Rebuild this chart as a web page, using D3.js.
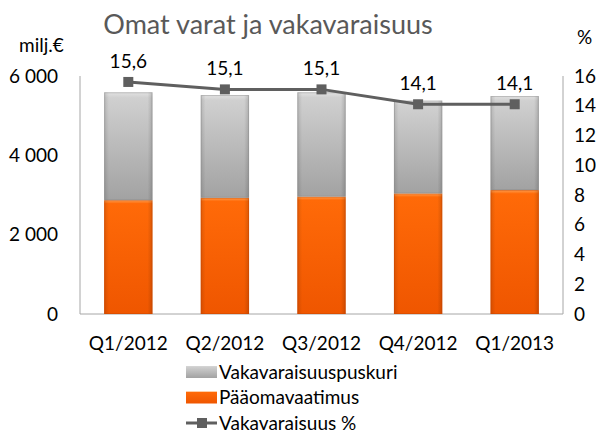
<!DOCTYPE html>
<html lang="en">
<head>
<meta charset="UTF-8">
<script src="https://d3js.org/d3.v7.min.js"></script>
<style>
  body { margin: 0; background: #fff; }
  svg { display: block; font-family: Lato, "Open Sans", sans-serif; }
</style>
</head>
<body>
<svg width="596" height="434"></svg>
<script>
const quarters = ['Q1/2012', 'Q2/2012', 'Q3/2012', 'Q4/2012', 'Q1/2013'];
const capitalReq = [2870, 2930, 2960, 3040, 3125];      // Pääomavaatimus
const buffer = [2720, 2590, 2630, 2340, 2370];          // Vakavaraisuuspuskuri
const solvency = [15.6, 15.1, 15.1, 14.1, 14.1];        // Vakavaraisuus %
const leftTicks = [0, 2000, 4000, 6000];
const rightTicks = [0, 2, 4, 6, 8, 10, 12, 14, 16];

const svg = d3.select('svg');
const margin = { top: 76, bottom: 120, left: 80, right: 33 };
const width = 596, height = 434;

const x = d3.scaleBand().domain(quarters)
  .range([margin.left, width - margin.right]).paddingInner(0.5).paddingOuter(0.25);
const yL = d3.scaleLinear().domain([0, 6000]).range([height - margin.bottom, margin.top]);
const yR = d3.scaleLinear().domain([0, 16]).range([height - margin.bottom, margin.top]);

const defs = svg.append('defs');
function grad(id, stops, horiz) {
  const g = defs.append('linearGradient').attr('id', id)
    .attr('x1', 0).attr('y1', 0).attr('x2', horiz ? 1 : 0).attr('y2', horiz ? 0 : 1);
  stops.forEach(s => g.append('stop').attr('offset', s[0]).attr('stop-color', s[1]).attr('stop-opacity', s[2] == null ? 1 : s[2]));
}
grad('gGray', [[0, '#e2e2e2'], [0.05, '#d0d0d0'], [1, '#a2a2a2']]);
grad('gOrange', [[0, '#ffa050'], [0.03, '#ff6a08'], [1, '#ef5600']]);
grad('gEdge', [[0, '#000', 0.12], [0.1, '#000', 0], [0.9, '#000', 0], [1, '#000', 0.15]], true);

const fmt = d => d3.format(',')(d).replace(',', ' ');
const fs = 19;

// axes lines
svg.append('line').attr('x1', margin.left).attr('x2', margin.left)
  .attr('y1', yL(6000)).attr('y2', yL(0)).attr('stroke', '#a6a6a6');
svg.append('line').attr('x1', width - margin.right).attr('x2', width - margin.right)
  .attr('y1', yR(16)).attr('y2', yR(0)).attr('stroke', '#a6a6a6');
svg.append('line').attr('x1', margin.left).attr('x2', width - margin.right)
  .attr('y1', yL(0)).attr('y2', yL(0)).attr('stroke', '#a6a6a6');

svg.selectAll('.lt').data(leftTicks).enter().append('text')
  .attr('x', 58).attr('y', d => yL(d)).attr('dy', '0.35em')
  .attr('text-anchor', 'end').attr('font-size', fs).attr('fill', '#000').text(fmt);
svg.selectAll('.rt').data(rightTicks).enter().append('text')
  .attr('x', 574).attr('y', d => yR(d)).attr('dy', '0.35em')
  .attr('font-size', fs).attr('fill', '#000').text(d => d);

svg.append('text').attr('x', 19).attr('y', 45).attr('dy', '0.35em').attr('font-size', fs).text('milj.€');
svg.append('text').attr('x', 577).attr('y', 37).attr('dy', '0.35em').attr('font-size', fs).text('%');
svg.append('text').attr('x', 268).attr('y', 25).attr('dy', '0.35em').attr('text-anchor', 'middle')
  .attr('font-size', 27).attr('fill', '#595959').text('Omat varat ja vakavaraisuus');

// bars
const bw = x.bandwidth();
function bevelBar(g, x0, yTop, yBot, fill, edge) {
  g.append('rect').attr('x', x0).attr('y', yTop).attr('width', bw).attr('height', yBot - yTop).attr('fill', fill);
  g.append('rect').attr('x', x0).attr('y', yTop).attr('width', bw).attr('height', yBot - yTop).attr('fill', 'url(#gEdge)');
  g.append('rect').attr('x', x0 + 0.5).attr('y', yTop + 0.5).attr('width', bw - 1).attr('height', yBot - yTop - 1)
    .attr('fill', 'none').attr('stroke', edge).attr('stroke-opacity', 0.45);
}
quarters.forEach((q, i) => {
  const g = svg.append('g');
  bevelBar(g, x(q), yL(capitalReq[i]), yL(0), 'url(#gOrange)', '#c84400');
  bevelBar(g, x(q), yL(capitalReq[i] + buffer[i]), yL(capitalReq[i]), 'url(#gGray)', '#8c8c8c');
});

svg.selectAll('.xl').data(quarters).enter().append('text')
  .attr('x', d => x(d) + bw / 2).attr('y', 343).attr('dy', '0.35em')
  .attr('text-anchor', 'middle').attr('font-size', fs).text(d => d);

// line
const line = d3.line().x((d, i) => x(quarters[i]) + bw / 2).y(d => yR(d));
svg.append('path').datum(solvency).attr('d', line).attr('fill', 'none')
  .attr('stroke', '#5f5f5f').attr('stroke-width', 3);
svg.selectAll('.pt').data(solvency).enter().append('rect')
  .attr('x', (d, i) => x(quarters[i]) + bw / 2 - 5).attr('y', d => yR(d) - 5)
  .attr('width', 10).attr('height', 10).attr('fill', '#5f5f5f');
svg.selectAll('.vl').data(solvency).enter().append('text')
  .attr('x', (d, i) => x(quarters[i]) + bw / 2).attr('y', d => yR(d) - 21).attr('dy', '0.35em')
  .attr('text-anchor', 'middle').attr('font-size', fs).text(d => String(d).replace('.', ','));

// legend
const legend = [
  { label: 'Vakavaraisuuspuskuri', fill: 'url(#gGray)', type: 'bar' },
  { label: 'Pääomavaatimus', fill: 'url(#gOrange)', type: 'bar' },
  { label: 'Vakavaraisuus %', type: 'line' }
];
const lg = svg.selectAll('.lg').data(legend).enter().append('g')
  .attr('transform', (d, i) => `translate(186, ${372 + i * 25.5})`);
lg.filter(d => d.type === 'bar').append('rect')
  .attr('x', 0).attr('y', -6).attr('width', 31).attr('height', 12).attr('fill', d => d.fill);
lg.filter(d => d.type === 'line').append('line')
  .attr('x1', 0).attr('x2', 31).attr('stroke', '#5f5f5f').attr('stroke-width', 3);
lg.filter(d => d.type === 'line').append('rect')
  .attr('x', 11).attr('y', -5).attr('width', 10).attr('height', 10).attr('fill', '#5f5f5f');
lg.append('text').attr('x', 33).attr('dy', '0.35em').attr('font-size', fs).text(d => d.label);
</script>
</body>
</html>
